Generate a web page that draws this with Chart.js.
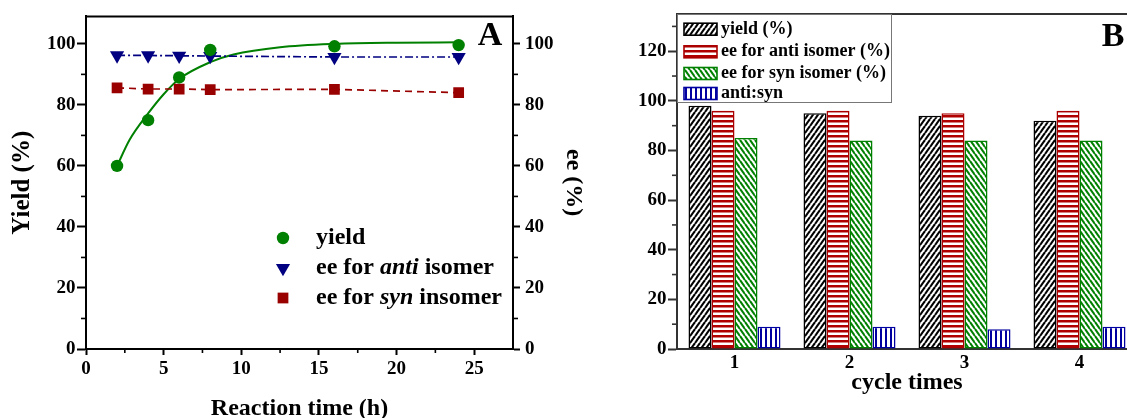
<!DOCTYPE html>
<html><head><meta charset="utf-8">
<script src="https://cdn.jsdelivr.net/npm/chart.js@4.4.1/dist/chart.umd.min.js"></script>
<style>
html,body{margin:0;padding:0;overflow:hidden;background:#fff;width:1127px;height:418px}
#wrap{position:relative;width:1127px;height:418px;overflow:hidden;background:#fff}
#ca{position:absolute;left:0;top:0}
#cb{position:absolute;left:600px;top:0}
</style></head><body>
<div id="wrap">
<canvas id="ca" width="600" height="418"></canvas>
<canvas id="cb" width="560" height="418"></canvas>
</div>
<script>
// ---------- Panel A data ----------
const timeH = [2, 4, 6, 8, 16, 24];
const yieldPct = [60, 75, 89, 98, 99.2, 99.6];
const eeAnti = [96.2, 96.2, 96.1, 96, 95.7, 95.7];
const eeSyn = [85.6, 85.2, 85.2, 85, 85.1, 84];
const fitTime = [2, 2.8, 4, 5, 6, 8, 9.5, 12.5, 16, 20, 24];
const fitYield = [60, 68.5, 77.2, 83.5, 88.5, 94.0, 96.5, 98.9, 100.0, 100.4, 100.5];
const xTicksA = [0, 5, 10, 15, 20, 25];
const xMinorA = [2.5, 7.5, 12.5, 17.5, 22.5];
const yTicksA = [0, 20, 40, 60, 80, 100];
const yMinorA = [10, 30, 50, 70, 90];

// ---------- Panel B data ----------
const cycles = ['1', '2', '3', '4'];
const yieldCycle = [98, 95, 94, 92];
const eeAntiCycle = [96, 96, 95, 96];
const eeSynCycle = [85, 84, 84, 84];
const antiSynRatio = [9, 9, 8, 9];
const yTicksB = [0, 20, 40, 60, 80, 100, 120];
const yMinorB = [10, 30, 50, 70, 90, 110, 130];

const serif = '"Liberation Serif", "Times New Roman", serif';
const GREEN = '#008000', NAVY = '#000080', DRED = '#990000';

function pts(xs, ys) { return xs.map((x, i) => ({ x: x, y: ys[i] })); }

function drawMarker(ctx, style, r, rot, x, y, color) {
  ctx.save();
  ctx.fillStyle = color; ctx.strokeStyle = color; ctx.lineWidth = 0;
  if (Chart.helpers && Chart.helpers.drawPoint) {
    Chart.helpers.drawPoint(ctx, { pointStyle: style, radius: r, rotation: rot, borderWidth: 0 }, x, y);
  }
  ctx.restore();
}

const framePluginA = {
  id: 'frameA',
  afterDraw(chart) {
    const { ctx, chartArea: a, scales } = chart;
    ctx.save();
    ctx.strokeStyle = '#000';
    ctx.lineWidth = 2;
    ctx.beginPath(); ctx.moveTo(a.left - 1, a.top); ctx.lineTo(a.right + 1, a.top); ctx.stroke();
    // minor ticks
    ctx.lineWidth = 1.6;
    yMinorA.forEach(v => {
      const py = scales.y.getPixelForValue(v);
      ctx.beginPath(); ctx.moveTo(a.left, py); ctx.lineTo(a.left - 5, py); ctx.stroke();
      const py2 = scales.y2.getPixelForValue(v);
      ctx.beginPath(); ctx.moveTo(a.right, py2); ctx.lineTo(a.right + 5, py2); ctx.stroke();
    });
    xMinorA.forEach(v => {
      const px = scales.x.getPixelForValue(v);
      ctx.beginPath(); ctx.moveTo(px, a.bottom); ctx.lineTo(px, a.bottom + 4); ctx.stroke();
    });
    // panel letter
    ctx.fillStyle = '#000';
    ctx.font = 'normal normal bold 34px ' + serif;
    ctx.textAlign = 'center'; ctx.textBaseline = 'middle';
    ctx.fillText('A', 490, 36);
    // legend
    const lx = 283, tx = 316;
    const rows = [
      { y: 238, style: 'circle', r: 6.2, rot: 0, color: GREEN, parts: [['yield', false]] },
      { y: 268, style: 'triangle', r: 8.2, rot: 180, color: NAVY, parts: [['ee for ', false], ['anti', true], [' isomer', false]] },
      { y: 298, style: 'rect', r: 7.6, rot: 0, color: DRED, parts: [['ee for ', false], ['syn', true], [' insomer', false]] }
    ];
    rows.forEach(row => {
      drawMarker(ctx, row.style, row.r, row.rot, lx, row.y, row.color);
      let x = tx;
      ctx.textAlign = 'left'; ctx.textBaseline = 'middle'; ctx.fillStyle = '#000';
      row.parts.forEach(p => {
        ctx.font = (p[1] ? 'italic normal bold 24px ' : 'normal normal bold 24px ') + serif;
        ctx.fillText(p[0], x, row.y);
        x += ctx.measureText(p[0]).width;
      });
    });
    ctx.restore();
  }
};

const tickFont = { family: serif, size: 19, weight: 'bold' };

new Chart(document.getElementById('ca'), {
  type: 'line',
  data: {
    datasets: [
      { label: 'fit', data: pts(fitTime, fitYield), borderColor: GREEN, borderWidth: 2, pointRadius: 0,
        cubicInterpolationMode: 'monotone', yAxisID: 'y', order: 4 },
      { label: 'ee for anti isomer', data: pts(timeH, eeAnti), borderColor: NAVY, borderWidth: 1.7,
        borderDash: [8, 3, 2, 3], pointStyle: 'triangle', pointRotation: 180, pointRadius: 8.2,
        pointBackgroundColor: NAVY, pointBorderWidth: 0, yAxisID: 'y2', order: 2 },
      { label: 'ee for syn insomer', data: pts(timeH, eeSyn), borderColor: DRED, borderWidth: 1.7,
        borderDash: [7, 5], pointStyle: 'rect', pointRadius: 7.6, pointBackgroundColor: DRED,
        pointBorderWidth: 0, yAxisID: 'y2', order: 3 },
      { label: 'yield', data: pts(timeH, yieldPct), showLine: false, pointStyle: 'circle', pointRadius: 6.2,
        pointBackgroundColor: GREEN, pointBorderWidth: 0, borderColor: GREEN, yAxisID: 'y', order: 1 }
    ]
  },
  options: {
    responsive: false, animation: false, events: [],
    layout: { padding: { top: 15, left: 0, right: 0, bottom: 0 } },
    plugins: { legend: { display: false }, tooltip: { enabled: false } },
    scales: {
      x: {
        type: 'linear', min: 0, max: 27.5,
        afterBuildTicks: s => { s.ticks = xTicksA.map(v => ({ value: v })); },
        afterFit: s => { s.height = 69; },
        ticks: { font: tickFont, color: '#000', padding: 2.6, maxRotation: 0, autoSkip: false },
        grid: { drawOnChartArea: false, drawTicks: true, tickLength: 6, tickWidth: 2, tickColor: '#000' },
        border: { display: true, color: '#000', width: 2 },
        title: { display: true, text: 'Reaction time (h)', color: '#000', padding: 0,
          font: { family: serif, size: 24, weight: 'bold', lineHeight: 0.8 } }
      },
      y: {
        position: 'left', min: 0, max: 109,
        afterBuildTicks: s => { s.ticks = yTicksA.map(v => ({ value: v })); },
        afterFit: s => { s.width = 86; },
        ticks: { font: tickFont, color: '#000', padding: 1.5 },
        grid: { drawOnChartArea: false, drawTicks: true, tickLength: 9, tickWidth: 2, tickColor: '#000' },
        border: { display: true, color: '#000', width: 2 },
        title: { display: true, text: 'Yield (%)', color: '#000', padding: { top: 8, bottom: 0 },
          font: { family: serif, size: 25, weight: 'bold', lineHeight: 1.2 } }
      },
      y2: {
        position: 'right', min: 0, max: 109,
        afterBuildTicks: s => { s.ticks = yTicksA.map(v => ({ value: v })); },
        afterFit: s => { s.width = 87; },
        ticks: { font: tickFont, color: '#000', padding: 5 },
        grid: { drawOnChartArea: false, drawTicks: true, tickLength: 7, tickWidth: 2, tickColor: '#000' },
        border: { display: true, color: '#000', width: 2 },
        title: { display: true, text: 'ee (%)', color: '#000', padding: { top: 12.6, bottom: 0 },
          font: { family: serif, size: 24, weight: 'bold', lineHeight: 1.2 } }
      }
    }
  },
  plugins: [framePluginA]
});

// ---------- Panel B ----------
function makePattern(w, h, draw) {
  const c = document.createElement('canvas');
  c.width = w; c.height = h;
  const g = c.getContext('2d');
  g.fillStyle = '#fff'; g.fillRect(0, 0, w, h);
  draw(g, w, h);
  return g.createPattern(c, 'repeat');
}
const patYield = makePattern(5, 7, (g, w, h) => {
  g.strokeStyle = '#000'; g.lineWidth = 2.1;
  [[0, h, w, 0], [-w, h, 0, 0], [w, h, 2 * w, 0]].forEach(l => { g.beginPath(); g.moveTo(l[0], l[1]); g.lineTo(l[2], l[3]); g.stroke(); });
});
const patSyn = makePattern(5, 7, (g, w, h) => {
  g.strokeStyle = '#008000'; g.lineWidth = 2.1;
  [[0, 0, w, h], [-w, 0, 0, h], [w, 0, 2 * w, h]].forEach(l => { g.beginPath(); g.moveTo(l[0], l[1]); g.lineTo(l[2], l[3]); g.stroke(); });
});
const patAnti = makePattern(4, 5, (g, w, h) => { g.fillStyle = '#b00000'; g.fillRect(0, 0, w, 2.5); });
const patRatio = makePattern(5, 4, (g, w, h) => { g.fillStyle = '#0000a0'; g.fillRect(0, 0, 2, h); });

const seriesB = [
  { label: 'yield (%)', data: yieldCycle, fill: patYield, border: '#000000' },
  { label: 'ee for anti isomer (%)', data: eeAntiCycle, fill: patAnti, border: '#aa0000' },
  { label: 'ee for syn isomer (%)', data: eeSynCycle, fill: patSyn, border: '#008000' },
  { label: 'anti:syn', data: antiSynRatio, fill: patRatio, border: '#0000a0' }
];

const framePluginB = {
  id: 'frameB',
  afterDraw(chart) {
    const { ctx, chartArea: a, scales } = chart;
    ctx.save();
    ctx.strokeStyle = '#333';
    ctx.lineWidth = 2;
    ctx.beginPath(); ctx.moveTo(a.left - 1, a.top); ctx.lineTo(a.right + 1, a.top); ctx.stroke();
    ctx.lineWidth = 1.6;
    yMinorB.forEach(v => {
      const py = scales.y.getPixelForValue(v);
      ctx.beginPath(); ctx.moveTo(a.left, py); ctx.lineTo(a.left - 5, py); ctx.stroke();
    });
    // panel letter
    ctx.fillStyle = '#000';
    ctx.font = 'normal normal bold 34px ' + serif;
    ctx.textAlign = 'center'; ctx.textBaseline = 'middle';
    ctx.fillText('B', 513, 37);
    // legend box
    const bx = a.left, by = a.top, bw = 214, bh = 88;
    ctx.fillStyle = '#fff';
    ctx.fillRect(bx, by, bw, bh);
    ctx.strokeStyle = '#777'; ctx.lineWidth = 1;
    ctx.strokeRect(bx + 0.5, by + 0.5, bw, bh);
    const rowsY = [29.2, 51.8, 73.5, 93.5];
    seriesB.forEach((s, i) => {
      const y = rowsY[i];
      ctx.fillStyle = s.fill;
      ctx.fillRect(684 - 600, y - 6, 33, 12);
      ctx.strokeStyle = s.border; ctx.lineWidth = 1.6;
      ctx.strokeRect(684 - 600, y - 6, 33, 12);
      ctx.font = 'normal normal bold 18px ' + serif;
      ctx.textAlign = 'left'; ctx.textBaseline = 'middle';
      ctx.fillStyle = '#000';
      ctx.fillText(s.label, 721 - 600, y);
    });
    ctx.restore();
  }
};

new Chart(document.getElementById('cb'), {
  type: 'bar',
  data: {
    labels: cycles,
    datasets: seriesB.map(s => ({
      label: s.label, data: s.data, backgroundColor: s.fill, borderColor: s.border,
      borderWidth: 1.5, borderSkipped: false, categoryPercentage: 0.8, barPercentage: 1.0
    }))
  },
  options: {
    responsive: false, animation: false, events: [],
    layout: { padding: { top: 14, left: 0, right: 23, bottom: 0 } },
    plugins: { legend: { display: false }, tooltip: { enabled: false } },
    scales: {
      x: {
        afterFit: s => { s.height = 69; },
        ticks: { font: tickFont, color: '#000', padding: 2.6, maxRotation: 0 },
        grid: { display: false, drawTicks: false },
        border: { display: true, color: '#333', width: 2 },
        title: { display: true, text: 'cycle times', color: '#000', padding: { top: 0, bottom: 20.6 },
          font: { family: serif, size: 24, weight: 'bold', lineHeight: 1.2 } }
      },
      y: {
        min: 0, max: 135,
        afterBuildTicks: s => { s.ticks = yTicksB.map(v => ({ value: v })); },
        afterFit: s => { s.width = 77; },
        ticks: { font: tickFont, color: '#000', padding: 1.5 },
        grid: { drawOnChartArea: false, drawTicks: true, tickLength: 9, tickWidth: 2, tickColor: '#333' },
        border: { display: true, color: '#333', width: 2 }
      }
    }
  },
  plugins: [framePluginB]
});
</script>
</body></html>
